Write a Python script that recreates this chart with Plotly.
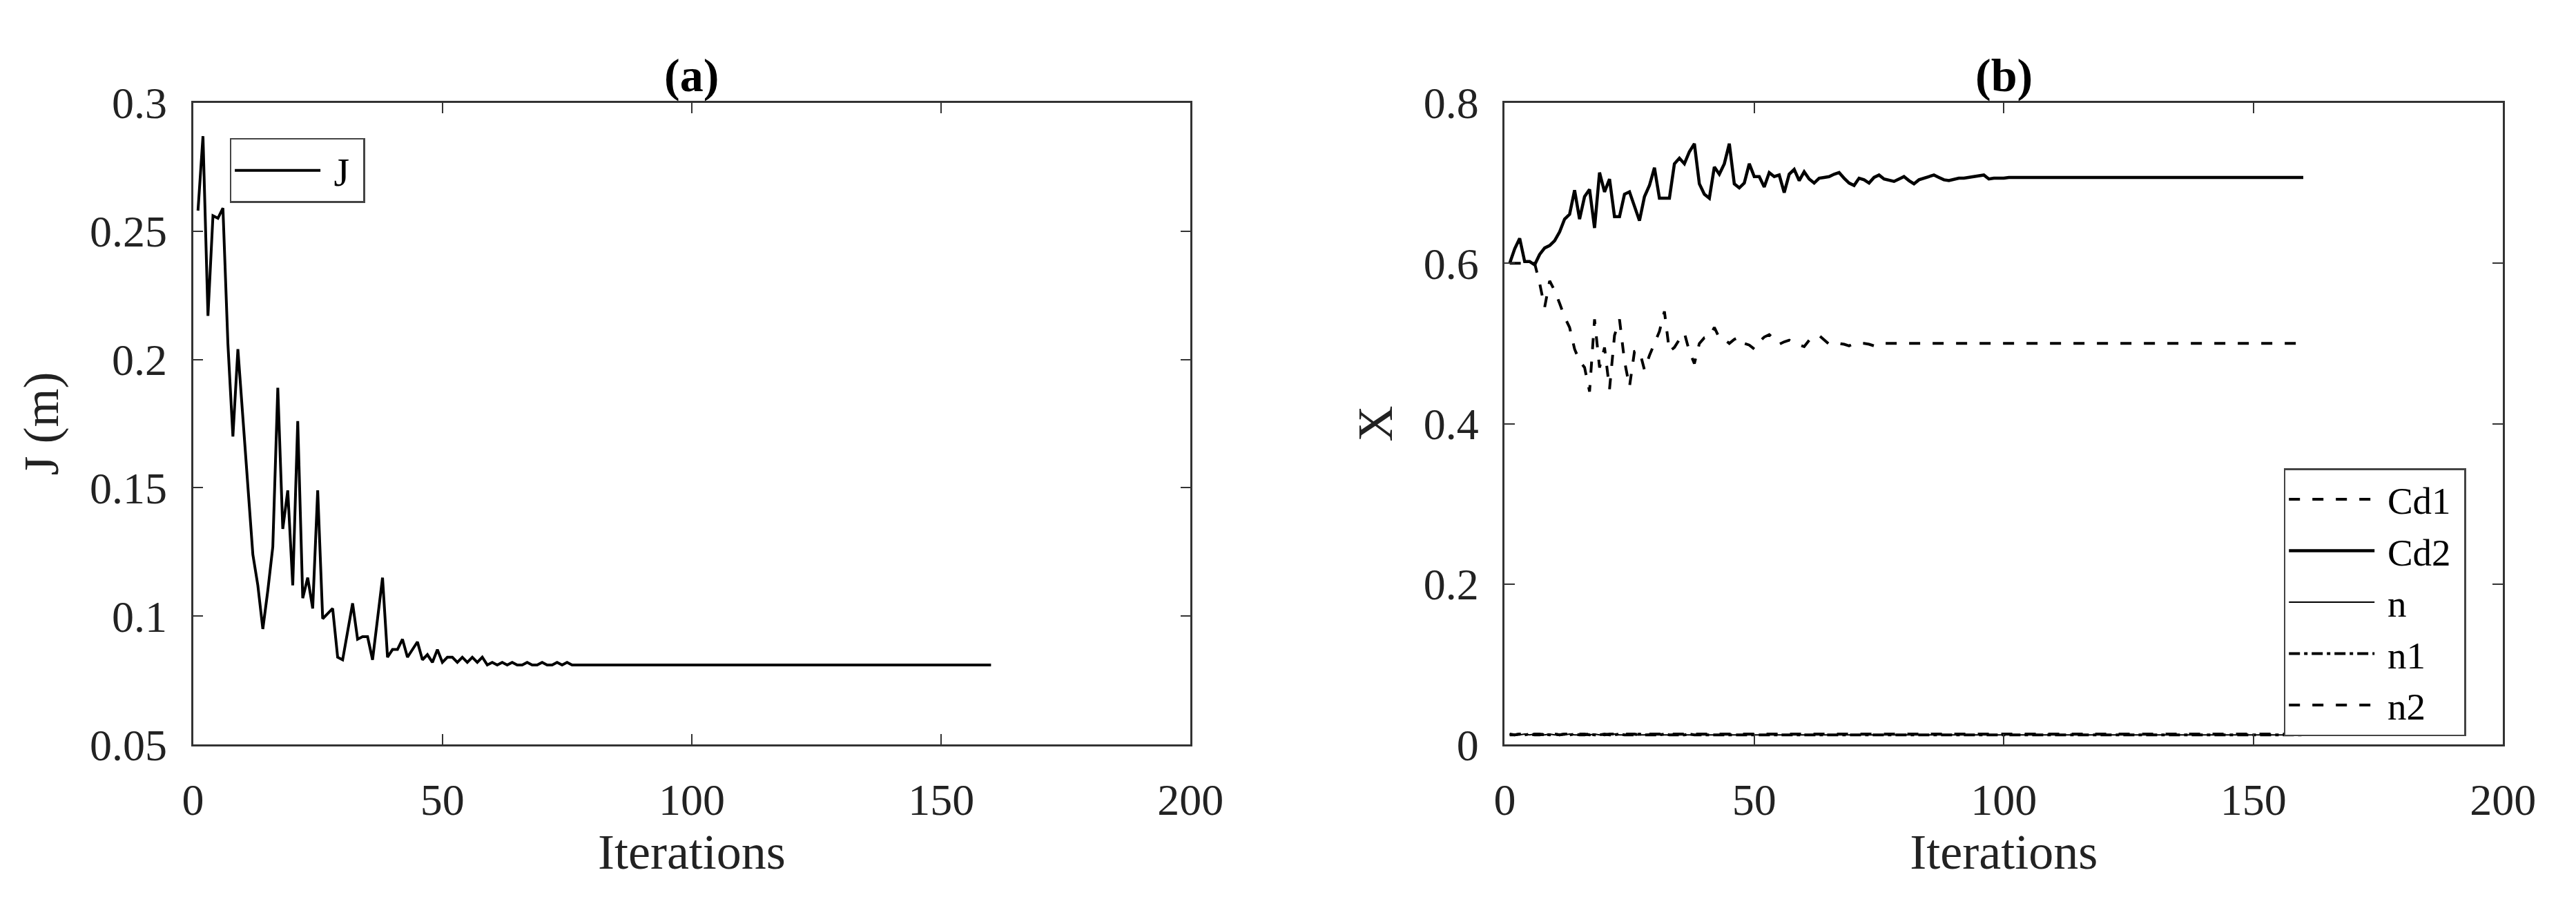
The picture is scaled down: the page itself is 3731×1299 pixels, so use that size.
import plotly.graph_objects as go

# ---------------- data ----------------
iterations = list(range(1, 161))

J = [
    0.258, 0.287, 0.217, 0.256, 0.255, 0.259, 0.206, 0.170, 0.204, 0.178,
    0.150, 0.124, 0.112, 0.095, 0.110, 0.127, 0.189, 0.134, 0.149, 0.112,
    0.176, 0.107, 0.115, 0.103, 0.149, 0.099, 0.101, 0.103, 0.084, 0.083,
    0.094, 0.105, 0.091, 0.092, 0.092, 0.083, 0.099, 0.115, 0.084, 0.087,
    0.087, 0.091, 0.084, 0.087, 0.090, 0.083, 0.085, 0.082, 0.087, 0.082,
    0.084, 0.084, 0.082, 0.084, 0.082, 0.084, 0.082, 0.084, 0.081, 0.082,
    0.081, 0.082, 0.081, 0.082, 0.081, 0.081, 0.082, 0.081, 0.081, 0.082,
    0.081, 0.081, 0.082, 0.081, 0.082, 0.081, 0.081, 0.081, 0.081, 0.081,
    0.081, 0.081, 0.081, 0.081, 0.081, 0.081, 0.081, 0.081, 0.081, 0.081,
    0.081, 0.081, 0.081, 0.081, 0.081, 0.081, 0.081, 0.081, 0.081, 0.081,
    0.081, 0.081, 0.081, 0.081, 0.081, 0.081, 0.081, 0.081, 0.081, 0.081,
    0.081, 0.081, 0.081, 0.081, 0.081, 0.081, 0.081, 0.081, 0.081, 0.081,
    0.081, 0.081, 0.081, 0.081, 0.081, 0.081, 0.081, 0.081, 0.081, 0.081,
    0.081, 0.081, 0.081, 0.081, 0.081, 0.081, 0.081, 0.081, 0.081, 0.081,
    0.081, 0.081, 0.081, 0.081, 0.081, 0.081, 0.081, 0.081, 0.081, 0.081,
    0.081, 0.081, 0.081, 0.081, 0.081, 0.081, 0.081, 0.081, 0.081, 0.081,
]

Cd1 = [
    0.600, 0.600, 0.600, 0.600, 0.600, 0.600, 0.575, 0.545, 0.578, 0.566,
    0.550, 0.533, 0.520, 0.493, 0.478, 0.470, 0.440, 0.530, 0.470, 0.495,
    0.443, 0.510, 0.530, 0.478, 0.446, 0.490, 0.491, 0.467, 0.485, 0.500,
    0.515, 0.540, 0.490, 0.495, 0.505, 0.513, 0.490, 0.475, 0.500, 0.507,
    0.508, 0.520, 0.507, 0.505, 0.500, 0.505, 0.508, 0.500, 0.498, 0.493,
    0.502, 0.508, 0.511, 0.505, 0.499, 0.502, 0.504, 0.500, 0.498, 0.496,
    0.504, 0.508, 0.510, 0.504, 0.499, 0.500, 0.500, 0.499, 0.497, 0.500,
    0.500, 0.500, 0.499, 0.497, 0.500, 0.500, 0.500, 0.500, 0.500, 0.500,
    0.500, 0.500, 0.500, 0.500, 0.500, 0.500, 0.500, 0.500, 0.500, 0.500,
    0.500, 0.500, 0.500, 0.500, 0.500, 0.500, 0.500, 0.500, 0.500, 0.500,
    0.500, 0.500, 0.500, 0.500, 0.500, 0.500, 0.500, 0.500, 0.500, 0.500,
    0.500, 0.500, 0.500, 0.500, 0.500, 0.500, 0.500, 0.500, 0.500, 0.500,
    0.500, 0.500, 0.500, 0.500, 0.500, 0.500, 0.500, 0.500, 0.500, 0.500,
    0.500, 0.500, 0.500, 0.500, 0.500, 0.500, 0.500, 0.500, 0.500, 0.500,
    0.500, 0.500, 0.500, 0.500, 0.500, 0.500, 0.500, 0.500, 0.500, 0.500,
    0.500, 0.500, 0.500, 0.500, 0.500, 0.500, 0.500, 0.500, 0.500, 0.500,
]

Cd2 = [
    0.600, 0.618, 0.631, 0.602, 0.602, 0.598, 0.611, 0.619, 0.622, 0.628,
    0.639, 0.655, 0.661, 0.691, 0.655, 0.683, 0.692, 0.644, 0.713, 0.689,
    0.705, 0.658, 0.658, 0.686, 0.689, 0.670, 0.653, 0.683, 0.697, 0.719,
    0.681, 0.681, 0.681, 0.724, 0.731, 0.724, 0.739, 0.749, 0.699, 0.686,
    0.681, 0.720, 0.711, 0.724, 0.749, 0.699, 0.694, 0.700, 0.724, 0.708,
    0.708, 0.695, 0.713, 0.708, 0.710, 0.688, 0.711, 0.717, 0.703, 0.714,
    0.705, 0.700, 0.706, 0.707, 0.708, 0.711, 0.713, 0.706, 0.700, 0.697,
    0.706, 0.704, 0.700, 0.707, 0.710, 0.705, 0.703, 0.702, 0.705, 0.708,
    0.703, 0.699, 0.704, 0.706, 0.708, 0.710, 0.707, 0.704, 0.703, 0.705,
    0.706, 0.706, 0.707, 0.708, 0.709, 0.710, 0.705, 0.706, 0.706, 0.706,
    0.707, 0.707, 0.707, 0.707, 0.707, 0.707, 0.707, 0.707, 0.707, 0.707,
    0.707, 0.707, 0.707, 0.707, 0.707, 0.707, 0.707, 0.707, 0.707, 0.707,
    0.707, 0.707, 0.707, 0.707, 0.707, 0.707, 0.707, 0.707, 0.707, 0.707,
    0.707, 0.707, 0.707, 0.707, 0.707, 0.707, 0.707, 0.707, 0.707, 0.707,
    0.707, 0.707, 0.707, 0.707, 0.707, 0.707, 0.707, 0.707, 0.707, 0.707,
    0.707, 0.707, 0.707, 0.707, 0.707, 0.707, 0.707, 0.707, 0.707, 0.707,
]

n = [
    0.013, 0.013, 0.012, 0.013, 0.012, 0.013, 0.012, 0.012, 0.013, 0.012,
    0.013, 0.012, 0.013, 0.012, 0.012, 0.013, 0.012, 0.013, 0.012, 0.012,
    0.012, 0.013, 0.012, 0.012, 0.013, 0.012, 0.012, 0.012, 0.013, 0.012,
    0.012, 0.012, 0.012, 0.013, 0.012, 0.012, 0.012, 0.012, 0.012, 0.012,
    0.012, 0.012, 0.012, 0.012, 0.012, 0.012, 0.012, 0.012, 0.012, 0.012,
    0.012, 0.012, 0.012, 0.012, 0.012, 0.012, 0.012, 0.012, 0.012, 0.012,
    0.012, 0.012, 0.012, 0.012, 0.012, 0.012, 0.012, 0.012, 0.012, 0.012,
    0.012, 0.012, 0.012, 0.012, 0.012, 0.012, 0.012, 0.012, 0.012, 0.012,
    0.012, 0.012, 0.012, 0.012, 0.012, 0.012, 0.012, 0.012, 0.012, 0.012,
    0.012, 0.012, 0.012, 0.012, 0.012, 0.012, 0.012, 0.012, 0.012, 0.012,
    0.012, 0.012, 0.012, 0.012, 0.012, 0.012, 0.012, 0.012, 0.012, 0.012,
    0.012, 0.012, 0.012, 0.012, 0.012, 0.012, 0.012, 0.012, 0.012, 0.012,
    0.012, 0.012, 0.012, 0.012, 0.012, 0.012, 0.012, 0.012, 0.012, 0.012,
    0.012, 0.012, 0.012, 0.012, 0.012, 0.012, 0.012, 0.012, 0.012, 0.012,
    0.012, 0.012, 0.012, 0.012, 0.012, 0.012, 0.012, 0.012, 0.012, 0.012,
    0.012, 0.012, 0.012, 0.012, 0.012, 0.012, 0.012, 0.012, 0.012, 0.012,
]

n1 = [
    0.012, 0.012, 0.013, 0.012, 0.013, 0.012, 0.012, 0.013, 0.012, 0.013,
    0.012, 0.013, 0.012, 0.013, 0.012, 0.012, 0.013, 0.012, 0.012, 0.013,
    0.012, 0.012, 0.013, 0.012, 0.012, 0.012, 0.013, 0.012, 0.012, 0.012,
    0.012, 0.013, 0.012, 0.012, 0.012, 0.012, 0.013, 0.012, 0.012, 0.012,
    0.012, 0.012, 0.012, 0.012, 0.012, 0.012, 0.012, 0.012, 0.012, 0.012,
    0.012, 0.012, 0.012, 0.012, 0.012, 0.012, 0.012, 0.012, 0.012, 0.012,
    0.012, 0.012, 0.012, 0.012, 0.012, 0.012, 0.012, 0.012, 0.012, 0.012,
    0.012, 0.012, 0.012, 0.012, 0.012, 0.012, 0.012, 0.012, 0.012, 0.012,
    0.012, 0.012, 0.012, 0.012, 0.012, 0.012, 0.012, 0.012, 0.012, 0.012,
    0.012, 0.012, 0.012, 0.012, 0.012, 0.012, 0.012, 0.012, 0.012, 0.012,
    0.012, 0.012, 0.012, 0.012, 0.012, 0.012, 0.012, 0.012, 0.012, 0.012,
    0.012, 0.012, 0.012, 0.012, 0.012, 0.012, 0.012, 0.012, 0.012, 0.012,
    0.012, 0.012, 0.012, 0.012, 0.012, 0.012, 0.012, 0.012, 0.012, 0.012,
    0.012, 0.012, 0.012, 0.012, 0.012, 0.012, 0.012, 0.012, 0.012, 0.012,
    0.012, 0.012, 0.012, 0.012, 0.012, 0.012, 0.012, 0.012, 0.012, 0.012,
    0.012, 0.012, 0.012, 0.012, 0.012, 0.012, 0.012, 0.012, 0.012, 0.012,
]

n2 = [
    0.013, 0.012, 0.013, 0.013, 0.012, 0.013, 0.013, 0.012, 0.013, 0.013,
    0.012, 0.013, 0.013, 0.012, 0.013, 0.013, 0.012, 0.013, 0.013, 0.012,
    0.013, 0.013, 0.012, 0.013, 0.013, 0.013, 0.012, 0.013, 0.013, 0.013,
    0.013, 0.012, 0.013, 0.013, 0.013, 0.013, 0.012, 0.013, 0.013, 0.013,
    0.013, 0.013, 0.013, 0.013, 0.013, 0.013, 0.013, 0.013, 0.013, 0.013,
    0.013, 0.013, 0.013, 0.013, 0.013, 0.013, 0.013, 0.013, 0.013, 0.013,
    0.013, 0.013, 0.013, 0.013, 0.013, 0.013, 0.013, 0.013, 0.013, 0.013,
    0.013, 0.013, 0.013, 0.013, 0.013, 0.013, 0.013, 0.013, 0.013, 0.013,
    0.013, 0.013, 0.013, 0.013, 0.013, 0.013, 0.013, 0.013, 0.013, 0.013,
    0.013, 0.013, 0.013, 0.013, 0.013, 0.013, 0.013, 0.013, 0.013, 0.013,
    0.013, 0.013, 0.013, 0.013, 0.013, 0.013, 0.013, 0.013, 0.013, 0.013,
    0.013, 0.013, 0.013, 0.013, 0.013, 0.013, 0.013, 0.013, 0.013, 0.013,
    0.013, 0.013, 0.013, 0.013, 0.013, 0.013, 0.013, 0.013, 0.013, 0.013,
    0.013, 0.013, 0.013, 0.013, 0.013, 0.013, 0.013, 0.013, 0.013, 0.013,
    0.013, 0.013, 0.013, 0.013, 0.013, 0.013, 0.013, 0.013, 0.013, 0.013,
    0.013, 0.013, 0.013, 0.013, 0.013, 0.013, 0.013, 0.013, 0.013, 0.013,
]

series_names = ["Cd1", "Cd2", "n", "n1", "n2"]
x_ticks = [0, 50, 100, 150, 200]
ya_ticks = [0.05, 0.1, 0.15, 0.2, 0.25, 0.3]
yb_ticks = [0, 0.2, 0.4, 0.6, 0.8]

# ---------------- figure ----------------
W, H = 3731, 1299
FONT = "Liberation Serif"
INK = "#000000"
AX = "#333333"
PAD = "\u00a0"


def legend_label(s):
    return PAD + s + PAD


fig = go.Figure()

fig.add_trace(go.Scatter(x=iterations, y=J, mode="lines", name=legend_label("J"),
                         line=dict(color=INK, width=4), xaxis="x", yaxis="y",
                         legend="legend"))

styles = {
    "Cd1": dict(color=INK, width=4, dash="16px,18px"),
    "Cd2": dict(color=INK, width=4.5),
    "n": dict(color=INK, width=2),
    "n1": dict(color=INK, width=4, dash="16px,6px,5px,6px"),
    "n2": dict(color=INK, width=4, dash="16px,18px"),
}
series_values = {"Cd1": Cd1, "Cd2": Cd2, "n": n, "n1": n1, "n2": n2}
for name in series_names:
    fig.add_trace(go.Scatter(x=iterations, y=series_values[name], mode="lines",
                             name=legend_label(name), line=styles[name],
                             xaxis="x2", yaxis="y2", legend="legend2"))

xa_dom = [260 / W, 1730 / W]
xb_dom = [2193 / W, 3664 / W]
y_dom = [(H - 1095) / H, (H - 112) / H]

axis_common = dict(
    showline=True, linecolor=AX, linewidth=2.5, mirror="ticks",
    ticks="inside", ticklen=15, tickwidth=2, tickcolor=AX,
    showgrid=False, zeroline=False,
    tickfont=dict(family=FONT, size=64, color="#222222"),
)

xaxis_common = dict(axis_common, range=[0, 200], tickvals=x_ticks,
                    ticklabelstandoff=22,
                    title=dict(text="Iterations", standoff=10,
                               font=dict(family=FONT, size=72, color="#222222")))

fig.update_layout(
    width=W, height=H,
    margin=dict(l=0, r=0, t=0, b=0),
    paper_bgcolor="white", plot_bgcolor="white",
    showlegend=True,
    xaxis=dict(xaxis_common, domain=xa_dom, anchor="y"),
    yaxis=dict(axis_common, domain=y_dom, anchor="x", range=[0.05, 0.3],
               tickvals=ya_ticks, ticklabelstandoff=22,
               title=dict(text="J (m)", standoff=22,
                          font=dict(family=FONT, size=72, color="#222222"))),
    xaxis2=dict(xaxis_common, domain=xb_dom, anchor="y2"),
    yaxis2=dict(axis_common, domain=y_dom, anchor="x2", range=[0, 0.8],
                tickvals=yb_ticks, ticklabelstandoff=22,
                title=dict(text="X", standoff=22,
                           font=dict(family=FONT, size=72, color="#222222"))),
    legend=dict(x=314 / W, y=(H - 166) / H, xanchor="left", yanchor="top",
                bgcolor="white", bordercolor="#444444", borderwidth=2.5,
                font=dict(family=FONT, size=58, color=INK),
                itemwidth=124, tracegroupgap=0),
    legend2=dict(x=3341 / W, y=(H - 672) / H, xanchor="left", yanchor="top",
                 bgcolor="white", bordercolor="#444444", borderwidth=2.5,
                 font=dict(family=FONT, size=55, color=INK),
                 itemwidth=124, tracegroupgap=0),
    annotations=[
        dict(text="<b>(a)</b>", x=(xa_dom[0] + xa_dom[1]) / 2, y=y_dom[1],
             xref="paper", yref="paper", xanchor="center", yanchor="bottom",
             showarrow=False, font=dict(family=FONT, size=68, color=INK)),
        dict(text="<b>(b)</b>", x=(xb_dom[0] + xb_dom[1]) / 2, y=y_dom[1],
             xref="paper", yref="paper", xanchor="center", yanchor="bottom",
             showarrow=False, font=dict(family=FONT, size=68, color=INK)),
    ],
)

fig.write_html("out.html")
